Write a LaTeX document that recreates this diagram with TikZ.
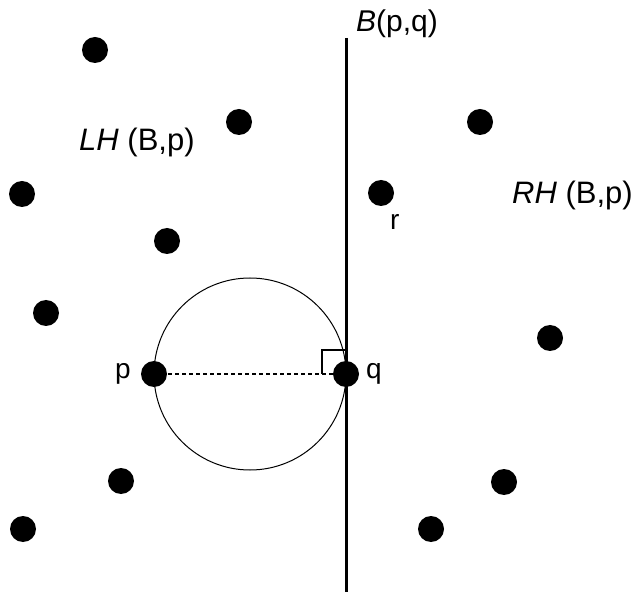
\documentclass[tikz,border=0pt]{standalone}
\usepackage{fontspec}
\setmainfont{Liberation Sans}
\begin{document}
\begin{tikzpicture}[x=1pt,y=-1pt,
  dot/.style={circle,fill=black,inner sep=0pt,minimum size=26pt},
  lbl/.style={inner sep=0pt,font=\fontsize{28}{32}\selectfont},
  bigl/.style={inner sep=0pt,font=\fontsize{31}{36}\selectfont}]
\useasboundingbox (0,0) rectangle (640,593);
% bisector
\coordinate (btop) at (346,38);
\coordinate (bbot) at (346,592);
\draw[line width=3pt] (btop) -- (bbot);
% circle
\node[circle,draw,line width=1pt,minimum size=192pt,inner sep=0pt] (circ) at (250,374) {};
% right-angle mark
\coordinate (ra1) at (322,374);
\coordinate (ra2) at (322,350);
\coordinate (ra3) at (346,350);
\draw[line width=2pt] (ra1) -- (ra2) -- (ra3);
% dots
\node[dot] (d1) at (95,50) {};
\node[dot] (d2) at (239,122) {};
\node[dot] (d3) at (22,194) {};
\node[dot] (d4) at (167,241) {};
\node[dot] (d5) at (46,313) {};
\node[dot] (p) at (154,374) {};
\node[dot] (q) at (346,374) {};
\node[dot] (d6) at (121,481) {};
\node[dot] (d7) at (23,529) {};
\node[dot] (d8) at (480,122) {};
\node[dot] (r) at (381,193) {};
\node[dot] (d9) at (550,338) {};
\node[dot] (d10) at (504,482) {};
\node[dot] (d11) at (431,529) {};
% dashed diameter
\draw[line width=2pt,dash pattern=on 4pt off 3pt] (p.center) -- (q.center);
% labels
\node[bigl,anchor=base west,font=\fontsize{30}{35}\selectfont] (tb) at (356,32) {\textit{B}(p,q)};
\node[bigl,anchor=base west] (tl) at (79,151) {\textit{LH} (B,p)};
\node[bigl,anchor=base west] (tr) at (512,204) {\textit{RH} (B,p)};
\node[lbl,anchor=base west] (tr2) at (390,230) {r};
\node[lbl,anchor=base west] (tp) at (115,379) {p};
\node[lbl,anchor=base west] (tq) at (366,379) {q};
\end{tikzpicture}
\end{document}
